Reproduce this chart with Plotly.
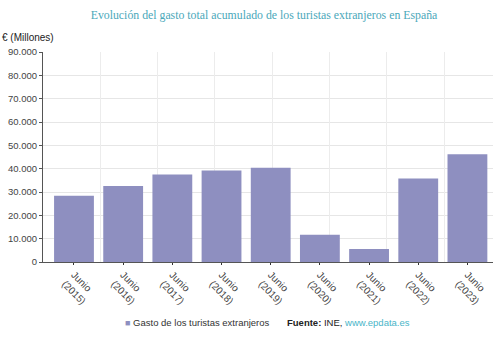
import plotly.graph_objects as go

categories = ["Junio<br>(2015)", "Junio<br>(2016)", "Junio<br>(2017)", "Junio<br>(2018)",
              "Junio<br>(2019)", "Junio<br>(2020)", "Junio<br>(2021)", "Junio<br>(2022)",
              "Junio<br>(2023)"]
gasto = [28400, 32600, 37500, 39200, 40400, 11700, 5600, 35800, 46200]
series_name = "Gasto de los turistas extranjeros"
title_text = "Evolución del gasto total acumulado de los turistas extranjeros en España"
y_title = "€ (Millones)"
bar_color = "#8e8fc0"

fig = go.Figure()
fig.add_trace(go.Bar(x=categories, y=gasto, name=series_name, showlegend=False,
                     marker=dict(color=bar_color, line=dict(width=0))))
# invisible trace on overlay axis for the vertical grid
fig.add_trace(go.Scatter(x=[None], y=[None], xaxis="x2", showlegend=False,
                         hoverinfo="skip"))

fig.update_layout(
    width=502, height=337,
    margin=dict(l=43, r=9, t=52, b=75),
    paper_bgcolor="white", plot_bgcolor="white",
    separators=",.",
    bargap=0.19,
    showlegend=False,
    font=dict(family="Liberation Sans, Arial", size=9.5, color="#444"),
    title=dict(text=title_text, x=264/502, xanchor="center", y=1-15/337, yanchor="middle",
               xref="container", yref="container",
               font=dict(family="Liberation Serif, Times New Roman", size=11.8, color="#4aa8ba")),
    xaxis=dict(tickangle=45, showgrid=False, showline=True, linecolor="#555", linewidth=1,
               ticks="outside", ticklen=2, tickcolor="#333", automargin=False,
               range=[-0.63, 8.52],
               tickfont=dict(size=10, color="#444")),
    xaxis2=dict(overlaying="x", range=[0, 450/57.3], dtick=1, showgrid=True,
                gridcolor="#ececec", showticklabels=False, zeroline=False, ticks="",
                automargin=False),
    yaxis=dict(range=[0, 90000], dtick=10000, tickformat=",d", showgrid=True,
               gridcolor="#e6e6e6", showline=True, linecolor="#555", linewidth=1,
               ticks="outside", ticklen=3, tickcolor="#555", zeroline=False,
               automargin=False, tickfont=dict(size=9.5, color="#444")),
)
fig.add_annotation(text=y_title, xref="paper", yref="paper", x=-0.0955, xanchor="left",
                   y=(262-37)/210, yanchor="middle", showarrow=False,
                   font=dict(size=10, color="#222"))
fig.add_annotation(text=f"<span style='color:{bar_color};font-size:9px'>■</span> {series_name}",
                   xref="paper", yref="paper", x=(123-43)/450, xanchor="left",
                   y=-0.286, yanchor="middle", showarrow=False,
                   font=dict(size=9.5, color="#333"))
fig.add_annotation(text="<b>Fuente:</b> INE, <span style='color:#4ab5c8'>www.epdata.es</span>",
                   xref="paper", yref="paper", x=(285-43)/450, xanchor="left",
                   y=-0.286, yanchor="middle", showarrow=False,
                   font=dict(size=9.5, color="#222"))

fig.write_html("out.html")
